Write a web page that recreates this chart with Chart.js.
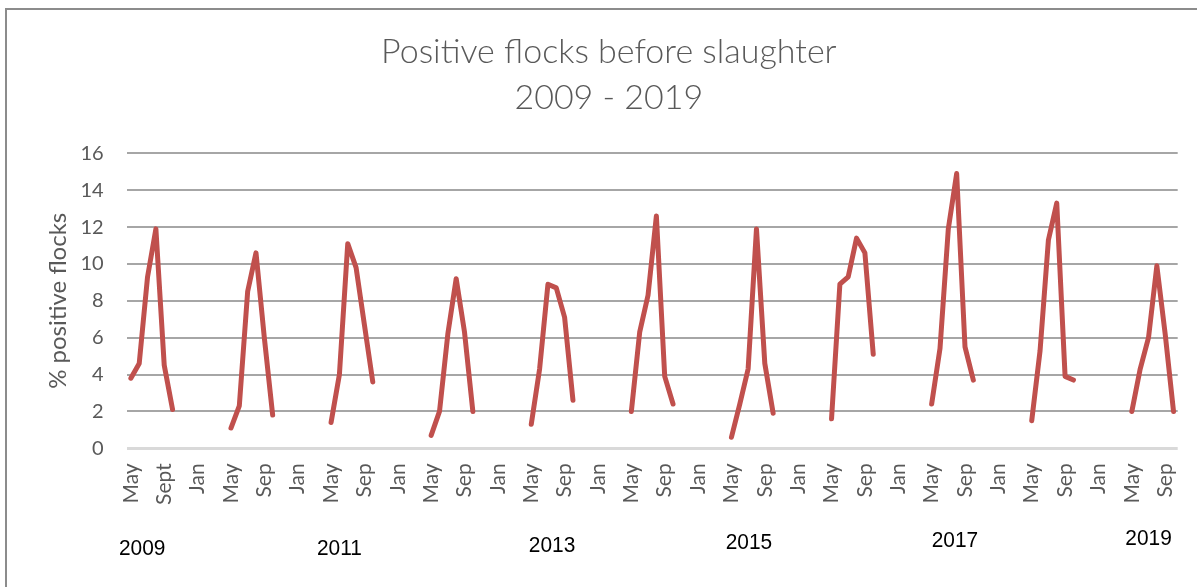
<!DOCTYPE html>
<html>
<head>
<meta charset="utf-8">
<script src="https://cdn.jsdelivr.net/npm/chart.js"></script>
<style>
  body { margin: 0; padding: 0; background: #fff; }
  .chart-wrapper { width: 1197px; height: 587px; }
</style>
</head>
<body>
<div class="chart-wrapper">
  <canvas id="lineChart" width="1197" height="587"></canvas>
</div>
<script>
// seasons run May..Oct, values in % positive flocks
const years = [2009, 2010, 2011, 2012, 2013, 2014, 2015, 2016, 2017, 2018, 2019];
const season2009 = [3.8, 4.6, 9.3, 11.9, 4.5, 2.1];
const season2010 = [1.1, 2.3, 8.5, 10.6, 6.0, 1.8];
const season2011 = [1.4, 4.0, 11.1, 9.8, 6.7, 3.6];
const season2012 = [0.7, 2.0, 6.2, 9.2, 6.3, 2.0];
const season2013 = [1.3, 4.3, 8.9, 8.7, 7.1, 2.6];
const season2014 = [2.0, 6.3, 8.3, 12.6, 3.9, 2.4];
const season2015 = [0.6, 2.4, 4.3, 11.9, 4.6, 1.9];
const season2016 = [1.6, 8.9, 9.3, 11.4, 10.6, 5.1];
const season2017 = [2.4, 5.4, 11.9, 14.9, 5.5, 3.7];
const season2018 = [1.5, 5.3, 11.3, 13.3, 3.9, 3.7];
const season2019 = [2.0, 4.3, 6.0, 9.9, 6.2, 2.0];

const monthNames = ['Jan', 'Feb', 'Mar', 'Apr', 'May', 'Jun', 'Jul', 'Aug', 'Sep', 'Oct', 'Nov', 'Dec'];
const tickLabels = ['May', 'Sept', 'Jan', 'May', 'Sep', 'Jan', 'May', 'Sep', 'Jan', 'May', 'Sep',
  'Jan', 'May', 'Sep', 'Jan', 'May', 'Sep', 'Jan', 'May', 'Sep', 'Jan', 'May', 'Sep',
  'Jan', 'May', 'Sep', 'Jan', 'May', 'Sep', 'Jan', 'May', 'Sep'];
const yearLabels = ['2009', '2011', '2013', '2015', '2017', '2019'];

const seasons = [season2009, season2010, season2011, season2012, season2013, season2014,
  season2015, season2016, season2017, season2018, season2019];

// one category per month, May 2009 .. Oct 2019; Nov..Apr left empty
const labels = [];
const values = [];
years.forEach((yr, i) => {
  const first = (i === 0) ? 4 : 0;
  const last = (i === years.length - 1) ? 9 : 11;
  for (let m = first; m <= last; m++) {
    labels.push(monthNames[m] + ' ' + yr);
    values.push(m >= 4 && m <= 9 ? seasons[i][m - 4] : null);
  }
});

const textGrey = '#595959';

// frame + hand-placed year captions under the axis
const decor = {
  id: 'decor',
  beforeDraw(chart) {
    const c = chart.ctx;
    c.save();
    c.fillStyle = '#fff';
    c.fillRect(0, 0, chart.width, chart.height);
    c.strokeStyle = '#8c8c8c';
    c.lineWidth = 2;
    c.strokeRect(6, 9, chart.width + 10, chart.height + 10);
    c.restore();
  },
  afterDraw(chart, args, opts) {
    const c = chart.ctx;
    const x = chart.scales.x;
    const base = chart.scales.y.bottom;
    c.fillStyle = '#000';
    c.font = '22px "Liberation Sans", sans-serif';
    c.textAlign = 'center';
    c.textBaseline = 'middle';
    yearLabels.forEach((t, i) => {
      c.save();
      c.translate(x.getPixelForValue(opts.at[i]), base + opts.dy[i]);
      c.scale(0.95, 1);
      c.fillText(t, 0, 0);
      c.restore();
    });
  }
};

const ctx = document.getElementById('lineChart').getContext('2d');
new Chart(ctx, {
  type: 'line',
  data: {
    labels: labels,
    datasets: [{
      data: values,
      borderColor: '#C0504D',
      borderWidth: 5,
      borderCapStyle: 'round',
      borderJoinStyle: 'round',
      pointRadius: 0,
      tension: 0,
      spanGaps: false,
      fill: false
    }]
  },
  plugins: [decor],
  options: {
    responsive: false,
    animation: false,
    layout: { padding: { left: 40, right: 19.3, top: 0, bottom: 0 } },
    scales: {
      x: {
        offset: true,
        grid: { display: false, drawTicks: false },
        border: { display: false },
        ticks: {
          autoSkip: false,
          minRotation: 90,
          maxRotation: 90,
          padding: 15,
          color: textGrey,
          font: { family: 'Lato', size: 21 },
          callback: (v, i) => (i % 4 === 0 ? tickLabels[i / 4] : '')
        },
        afterFit: (s) => {
          s.height = 138.7;
          s.paddingLeft = 0;
          s.paddingRight = 0;
        }
      },
      y: {
        min: 0,
        max: 16,
        grid: {
          drawTicks: false,
          color: (c) => (c.tick && c.tick.value === 0 ? '#D9D9D9' : '#A6A6A6'),
          lineWidth: (c) => (c.tick && c.tick.value === 0 ? 3 : 2)
        },
        border: { display: false },
        ticks: {
          stepSize: 2,
          padding: 23,
          color: textGrey,
          font: { family: 'Lato', size: 20 }
        },
        title: {
          display: true,
          text: '% positive flocks',
          color: textGrey,
          padding: { top: 4, bottom: 0 },
          font: { family: 'Lato', size: 24 }
        },
        afterFit: (s) => { s.width = 86.7; }
      }
    },
    plugins: {
      legend: { display: false },
      tooltip: { enabled: false },
      title: {
        display: true,
        text: ['Positive flocks before slaughter', '2009 - 2019'],
        color: textGrey,
        padding: { top: 29, bottom: 32.3 },
        font: { family: 'Lato', size: 34, weight: '300', lineHeight: 1.353 }
      },
      decor: {
        at: [1.35, 25, 50.5, 74.1, 98.8, 122],
        dy: [100.5, 100.5, 97.5, 95, 93, 91]
      }
    }
  }
});
</script>
</body>
</html>
